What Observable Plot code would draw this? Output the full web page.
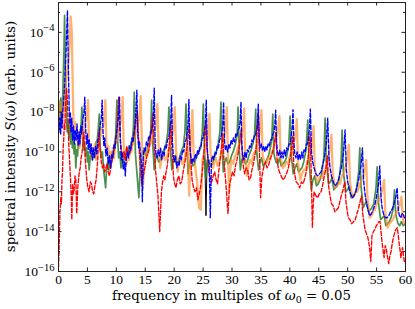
<!DOCTYPE html>
<html><head><meta charset="utf-8">
<script src="https://cdn.jsdelivr.net/npm/d3@7"></script>
<script src="https://cdn.jsdelivr.net/npm/@observablehq/plot@0.6"></script>
<style>body{margin:0;background:#fff} svg{display:block}</style>
</head><body><div id="chart"></div>
<script>
// tick values
const xTicks = [0,5,10,15,20,25,30,35,40,45,50,55,60];
const yMajorExp = [-16,-14,-12,-10,-8,-6,-4];
const yMinorExp = [-15,-13,-11,-9,-7,-5,-3];

// series: [frequency, log10 S(omega)]
const black = [[25.3,-10.3],[25.5,-13.2],[25.7,-10.4]];

const green = [[0.0,-7.4],[0.1,-8.2],[0.2,-8.8],[0.3,-7.9],[0.4,-7.3],[0.5,-8.1],[0.6,-8.5],[0.7,-7.6],[0.8,-6.5],[0.95,-4.8],[1.05,-3.15],[1.2,-6.0],[1.35,-8.0],[1.5,-9.0],[1.65,-8.4],[1.8,-9.3],[1.95,-8.6],[2.1,-9.6],[2.25,-8.9],[2.4,-9.8],[2.55,-9.2],[2.7,-10.1],[2.85,-9.6],[3.0,-10.8],[3.15,-9.9],[3.3,-10.2],[3.45,-9.4],[3.6,-9.7],[3.75,-9.0],[3.9,-8.7],[4.05,-7.75],[4.2,-9.3],[4.35,-9.9],[4.5,-9.5],[4.7,-10.2],[4.85,-9.8],[5.0,-10.5],[5.15,-10.0],[5.3,-10.9],[5.5,-10.2],[5.7,-9.9],[5.9,-10.4],[6.1,-9.9],[6.3,-10.3],[6.5,-9.5],[6.7,-9.4],[6.85,-8.9],[7.05,-8.1],[7.2,-9.7],[7.4,-10.3],[7.6,-10.0],[7.8,-10.9],[8.0,-11.4],[8.15,-11.8],[8.3,-10.9],[8.5,-10.5],[8.7,-10.9],[8.9,-10.2],[9.1,-10.6],[9.3,-10.0],[9.5,-10.2],[9.7,-9.6],[9.9,-9.1],[10.1,-7.4],[10.25,-9.5],[10.4,-10.3],[10.6,-10.0],[10.8,-10.8],[11.0,-10.4],[11.2,-10.7],[11.4,-10.0],[11.6,-10.3],[11.8,-9.8],[12.0,-10.2],[12.2,-9.7],[12.4,-10.0],[12.6,-9.5],[12.8,-9.3],[12.95,-8.8],[13.1,-7.0],[13.3,-10.1],[13.6,-11.2],[13.9,-12.3],[14.2,-10.3],[14.5,-10.0],[14.8,-9.9],[15.1,-10.2],[15.3,-10.1],[15.5,-9.7],[15.7,-9.5],[15.95,-8.9],[16.1,-7.4],[16.3,-9.6],[16.55,-10.9],[16.8,-10.3],[17.0,-10.1],[17.3,-10.5],[17.6,-10.4],[17.9,-10.1],[18.2,-9.9],[18.6,-9.6],[18.9,-9.0],[19.1,-7.75],[19.3,-9.7],[19.6,-10.9],[19.9,-10.4],[20.1,-10.2],[20.4,-10.6],[20.7,-10.5],[21.0,-10.2],[21.2,-10.0],[21.6,-9.7],[21.85,-9.0],[22.05,-7.6],[22.25,-9.8],[22.4,-11.1],[22.7,-10.5],[22.9,-10.3],[23.2,-10.7],[23.5,-10.6],[23.8,-10.3],[24.1,-10.1],[24.6,-9.8],[24.85,-9.1],[25.05,-7.6],[25.25,-10.0],[25.45,-11.3],[25.7,-10.6],[26.0,-10.4],[26.3,-10.7],[26.6,-10.6],[26.9,-10.3],[27.2,-10.1],[27.6,-9.6],[27.9,-9.0],[28.1,-7.5],[28.3,-9.8],[28.5,-11.0],[28.75,-10.5],[29.0,-10.3],[29.3,-10.6],[29.6,-10.5],[29.9,-10.2],[30.2,-10.0],[30.6,-9.6],[30.9,-9.1],[31.05,-7.75],[31.25,-9.9],[31.45,-10.9],[31.7,-10.4],[32.0,-10.2],[32.3,-10.6],[32.6,-10.5],[32.9,-10.2],[33.2,-10.0],[33.6,-9.6],[33.9,-9.1],[34.1,-7.85],[34.3,-10.1],[34.6,-10.9],[34.85,-10.5],[35.1,-10.3],[35.4,-10.7],[35.7,-10.6],[36.0,-10.4],[36.3,-10.2],[36.7,-9.7],[36.9,-9.2],[37.05,-8.1],[37.25,-10.1],[37.6,-10.5],[37.9,-10.6],[38.2,-10.3],[38.5,-10.7],[38.8,-10.6],[39.1,-10.5],[39.4,-10.3],[39.8,-9.7],[40.05,-8.2],[40.25,-10.2],[40.6,-11.1],[40.9,-10.8],[41.2,-10.6],[41.5,-11.0],[41.8,-10.9],[42.1,-10.8],[42.4,-10.5],[42.8,-9.9],[43.1,-8.4],[43.3,-10.4],[43.7,-11.9],[44.0,-11.4],[44.3,-11.2],[44.6,-11.7],[44.9,-11.6],[45.2,-11.4],[45.5,-11.1],[45.9,-10.2],[46.1,-8.3],[46.3,-10.5],[46.7,-11.6],[47.0,-11.5],[47.3,-11.3],[47.6,-11.9],[47.9,-11.8],[48.2,-11.7],[48.5,-11.4],[48.85,-10.5],[49.05,-8.9],[49.25,-11.0],[49.7,-12.0],[50.0,-11.9],[50.3,-11.7],[50.6,-12.3],[50.9,-12.2],[51.2,-12.1],[51.5,-11.9],[51.9,-11.0],[52.1,-9.8],[52.3,-11.7],[52.7,-12.8],[53.0,-12.6],[53.3,-12.5],[53.6,-13.0],[53.9,-12.9],[54.2,-12.8],[54.5,-12.6],[54.9,-11.8],[55.1,-10.75],[55.3,-12.5],[55.7,-13.4],[56.0,-13.3],[56.3,-13.2],[56.6,-13.7],[56.9,-13.6],[57.2,-13.5],[57.5,-13.3],[57.9,-12.8],[58.1,-11.9],[58.3,-13.1],[58.7,-13.6],[59.0,-13.7],[59.3,-13.5],[59.6,-13.7],[60.0,-13.6]];

const orange = [[0.0,-7.6],[0.12,-8.3],[0.25,-8.7],[0.38,-7.9],[0.5,-7.5],[0.62,-8.4],[0.75,-8.7],[0.9,-7.8],[1.05,-7.3],[1.2,-6.8],[1.35,-6.4],[1.5,-6.0],[1.75,-5.4],[1.95,-4.5],[2.1,-3.2],[2.3,-4.0],[2.45,-6.5],[2.6,-8.6],[2.75,-9.0],[2.9,-8.5],[3.05,-9.4],[3.2,-8.8],[3.35,-9.7],[3.5,-9.2],[3.65,-9.8],[3.8,-9.0],[4.0,-9.3],[4.2,-8.8],[4.4,-9.0],[4.6,-8.5],[4.8,-8.3],[4.95,-8.0],[5.1,-7.4],[5.25,-9.3],[5.4,-9.9],[5.55,-9.6],[5.7,-10.3],[5.9,-9.8],[6.1,-10.1],[6.3,-9.6],[6.5,-10.4],[6.7,-9.8],[6.9,-9.5],[7.1,-9.0],[7.3,-9.2],[7.5,-8.8],[7.7,-8.7],[7.9,-8.3],[8.1,-7.4],[8.25,-9.4],[8.4,-10.1],[8.6,-9.7],[8.8,-10.5],[9.0,-10.0],[9.2,-10.4],[9.4,-9.8],[9.6,-10.3],[9.8,-9.6],[10.0,-9.5],[10.2,-9.0],[10.4,-8.8],[10.6,-8.7],[10.8,-8.4],[10.95,-8.0],[11.1,-7.25],[11.25,-9.5],[11.4,-10.3],[11.6,-10.0],[11.8,-10.6],[12.0,-10.1],[12.2,-10.4],[12.4,-9.8],[12.6,-10.0],[12.8,-9.5],[13.0,-9.6],[13.2,-9.2],[13.4,-9.0],[13.6,-8.7],[13.8,-8.5],[14.0,-8.2],[14.2,-7.2],[14.4,-9.4],[14.6,-11.8],[14.8,-10.6],[15.0,-10.3],[15.25,-10.0],[15.5,-9.8],[15.75,-9.7],[16.0,-9.5],[16.25,-9.3],[16.5,-9.0],[16.7,-8.9],[16.9,-8.6],[17.1,-7.6],[17.3,-9.6],[17.6,-10.8],[17.85,-10.3],[18.1,-10.0],[18.4,-10.4],[18.7,-10.3],[19.0,-9.9],[19.3,-9.6],[19.55,-9.3],[19.8,-9.0],[20.1,-7.75],[20.3,-9.8],[20.6,-11.0],[20.85,-10.5],[21.1,-10.2],[21.4,-10.6],[21.7,-10.5],[22.0,-10.0],[22.3,-9.6],[22.6,-12.2],[22.9,-9.2],[23.15,-7.9],[23.35,-10.0],[23.7,-10.9],[24.0,-11.6],[24.3,-12.8],[24.6,-12.9],[24.9,-10.4],[25.15,-10.1],[25.4,-9.9],[25.6,-9.6],[25.8,-9.2],[26.1,-8.1],[26.3,-10.1],[26.7,-10.8],[26.95,-10.5],[27.2,-10.3],[27.5,-10.7],[27.8,-10.5],[28.1,-10.1],[28.4,-9.6],[28.8,-9.0],[29.1,-7.75],[29.3,-10.2],[29.5,-12.0],[29.7,-10.9],[29.9,-10.4],[30.2,-10.6],[30.5,-10.2],[30.75,-10.1],[31.0,-9.8],[31.3,-9.6],[31.6,-9.3],[31.9,-8.8],[32.1,-7.83],[32.3,-10.3],[32.6,-11.2],[32.85,-10.7],[33.1,-10.4],[33.4,-10.6],[33.7,-10.1],[34.0,-10.0],[34.3,-9.8],[34.8,-9.0],[35.1,-7.9],[35.3,-10.2],[35.7,-10.6],[36.0,-10.5],[36.3,-10.3],[36.6,-10.4],[36.9,-10.0],[37.2,-9.8],[37.5,-9.5],[37.9,-9.0],[38.2,-8.2],[38.4,-10.3],[38.8,-10.8],[39.1,-10.7],[39.4,-10.5],[39.7,-10.6],[40.0,-10.2],[40.3,-10.0],[40.6,-9.7],[41.0,-9.1],[41.2,-8.35],[41.4,-10.5],[41.8,-11.4],[42.1,-11.1],[42.4,-10.9],[42.7,-10.9],[43.0,-10.5],[43.3,-10.3],[43.6,-10.0],[43.9,-9.5],[44.1,-8.7],[44.3,-10.8],[44.7,-11.5],[45.0,-11.4],[45.3,-11.2],[45.6,-11.3],[45.9,-11.0],[46.2,-10.8],[46.5,-10.5],[46.9,-9.9],[47.2,-9.15],[47.4,-11.0],[47.8,-11.8],[48.1,-11.7],[48.4,-11.5],[48.7,-11.6],[49.0,-11.2],[49.3,-11.1],[49.6,-10.8],[49.95,-10.3],[50.2,-9.65],[50.4,-11.5],[50.8,-12.3],[51.1,-12.2],[51.4,-12.0],[51.7,-12.0],[52.0,-11.7],[52.3,-11.5],[52.6,-11.3],[52.95,-10.9],[53.2,-10.4],[53.4,-12.2],[53.8,-13.3],[54.1,-13.2],[54.4,-13.0],[54.7,-12.9],[55.0,-12.6],[55.3,-12.5],[55.6,-12.3],[56.0,-11.9],[56.3,-11.4],[56.5,-13.0],[56.9,-13.8],[57.2,-13.6],[57.5,-13.5],[57.8,-13.4],[58.1,-13.2],[58.4,-13.1],[58.7,-12.9],[59.05,-12.6],[59.3,-12.25],[59.5,-13.3],[59.75,-13.6],[60.0,-13.5]];

const red = [[0.0,-15.8],[0.1,-15.0],[0.25,-13.0],[0.4,-12.3],[0.5,-12.6],[0.6,-11.4],[0.7,-11.0],[0.8,-9.8],[0.9,-9.4],[1.0,-8.6],[1.1,-8.9],[1.2,-7.6],[1.4,-6.8],[1.55,-7.5],[1.7,-8.9],[1.8,-9.8],[1.9,-10.3],[2.0,-10.9],[2.1,-11.5],[2.2,-12.2],[2.3,-13.4],[2.45,-11.6],[2.6,-12.1],[2.7,-11.9],[2.85,-11.2],[3.0,-11.4],[3.15,-13.1],[3.35,-11.7],[3.5,-11.3],[3.6,-11.0],[3.75,-10.8],[3.9,-10.3],[4.05,-10.1],[4.2,-9.6],[4.4,-9.0],[4.6,-10.2],[4.75,-10.9],[4.9,-11.4],[5.1,-11.8],[5.3,-12.0],[5.5,-11.5],[5.7,-11.6],[5.9,-12.0],[6.1,-12.1],[6.3,-11.7],[6.5,-11.4],[6.65,-10.9],[6.8,-10.3],[7.0,-8.9],[7.2,-9.9],[7.4,-10.5],[7.6,-10.8],[7.8,-10.6],[8.0,-11.0],[8.2,-10.8],[8.4,-10.6],[8.6,-11.0],[8.8,-11.2],[9.05,-10.8],[9.3,-10.4],[9.55,-10.0],[9.8,-9.5],[10.0,-9.1],[10.2,-8.4],[10.4,-7.25],[10.6,-9.0],[10.75,-9.6],[10.9,-9.9],[11.1,-10.3],[11.3,-10.0],[11.55,-10.4],[11.8,-9.7],[12.05,-10.2],[12.3,-10.1],[12.55,-9.8],[12.8,-9.5],[13.0,-9.3],[13.2,-8.9],[13.4,-8.5],[13.6,-7.9],[13.8,-9.1],[14.1,-10.6],[14.4,-11.6],[14.6,-11.3],[14.8,-11.0],[15.05,-10.6],[15.3,-10.2],[15.5,-10.1],[15.7,-9.8],[16.0,-9.0],[16.3,-8.1],[16.5,-9.5],[16.8,-11.0],[17.0,-11.6],[17.2,-12.2],[17.5,-14.0],[17.8,-12.0],[18.0,-11.5],[18.2,-11.2],[18.4,-11.4],[18.6,-11.0],[18.8,-10.7],[19.0,-10.2],[19.2,-9.5],[19.4,-8.5],[19.6,-9.8],[19.9,-11.3],[20.1,-11.6],[20.3,-11.8],[20.55,-11.4],[20.8,-11.2],[21.05,-11.6],[21.3,-11.5],[21.55,-11.0],[21.8,-10.6],[22.05,-10.2],[22.3,-9.6],[22.6,-8.65],[22.8,-10.0],[23.1,-11.4],[23.35,-11.8],[23.6,-12.0],[23.85,-11.8],[24.1,-12.4],[24.35,-12.1],[24.6,-11.7],[24.85,-11.0],[25.1,-10.2],[25.3,-9.4],[25.5,-8.5],[25.7,-9.9],[26.0,-11.0],[26.25,-11.3],[26.5,-11.5],[26.75,-11.2],[27.0,-11.0],[27.25,-11.4],[27.5,-11.6],[27.7,-11.0],[27.9,-10.5],[28.15,-9.9],[28.4,-9.1],[28.6,-10.4],[29.0,-11.8],[29.3,-13.1],[29.6,-11.6],[29.85,-11.3],[30.1,-11.0],[30.35,-11.2],[30.6,-10.7],[30.85,-10.4],[31.1,-10.0],[31.3,-9.6],[31.55,-8.9],[31.8,-10.3],[32.0,-10.8],[32.2,-11.1],[32.45,-10.8],[32.7,-10.9],[32.95,-11.4],[33.2,-11.3],[33.45,-10.9],[33.7,-10.6],[33.95,-10.2],[34.2,-9.7],[34.55,-8.0],[34.75,-10.1],[34.95,-12.3],[35.15,-11.3],[35.3,-11.0],[35.55,-10.7],[35.8,-10.5],[36.05,-10.8],[36.3,-10.7],[36.55,-10.4],[36.8,-10.2],[37.0,-10.0],[37.2,-9.8],[37.6,-9.0],[37.8,-10.4],[38.0,-10.8],[38.2,-11.0],[38.5,-11.2],[38.8,-11.4],[39.1,-11.3],[39.4,-11.1],[39.65,-10.9],[39.9,-10.6],[40.2,-10.0],[40.5,-9.2],[40.7,-10.8],[40.9,-11.2],[41.1,-11.5],[41.4,-11.6],[41.7,-11.8],[42.0,-11.5],[42.3,-11.6],[42.6,-11.3],[42.9,-10.9],[43.2,-10.2],[43.5,-9.1],[43.7,-11.0],[43.9,-13.8],[44.05,-12.6],[44.2,-12.0],[44.5,-12.2],[44.8,-12.3],[45.1,-12.1],[45.4,-12.0],[45.65,-11.7],[45.9,-11.3],[46.2,-10.9],[46.5,-10.2],[46.7,-11.7],[46.95,-12.2],[47.2,-12.6],[47.5,-12.7],[47.8,-13.0],[48.1,-12.9],[48.4,-12.8],[48.65,-12.5],[48.9,-12.2],[49.2,-11.9],[49.5,-11.5],[49.7,-12.5],[49.9,-12.9],[50.1,-13.3],[50.4,-13.4],[50.7,-13.6],[51.0,-13.5],[51.3,-13.4],[51.6,-13.1],[51.9,-12.8],[52.15,-12.5],[52.4,-12.2],[52.6,-13.1],[53.0,-13.9],[53.25,-14.1],[53.5,-14.3],[53.8,-14.8],[54.0,-15.5],[54.2,-14.2],[54.45,-14.0],[54.7,-13.9],[54.95,-13.7],[55.2,-13.6],[55.4,-13.5],[55.6,-13.5],[55.9,-14.4],[56.1,-14.9],[56.3,-15.3],[56.5,-14.7],[56.7,-14.9],[56.9,-15.3],[57.1,-15.6],[57.3,-15.2],[57.5,-15.0],[57.7,-14.6],[57.9,-14.3],[58.1,-14.1],[58.3,-13.9],[58.6,-13.8],[58.9,-14.6],[59.05,-14.9],[59.2,-15.3],[59.35,-15.0],[59.5,-14.8],[59.65,-15.2],[59.8,-15.5],[60.0,-15.6]];

const blue = [[0.0,-8.2],[0.12,-8.9],[0.25,-8.3],[0.38,-9.1],[0.5,-8.0],[0.62,-8.8],[0.75,-7.9],[0.9,-7.4],[1.05,-6.6],[1.3,-5.0],[1.55,-2.9],[1.7,-5.6],[1.85,-7.8],[1.95,-8.6],[2.05,-8.0],[2.15,-9.0],[2.3,-8.3],[2.45,-9.4],[2.6,-8.7],[2.75,-9.6],[2.9,-8.9],[3.05,-9.4],[3.2,-8.6],[3.4,-9.7],[3.55,-9.0],[3.7,-9.6],[3.85,-8.7],[4.0,-9.1],[4.2,-8.4],[4.4,-8.0],[4.55,-7.25],[4.7,-8.9],[4.85,-9.6],[5.0,-9.1],[5.15,-9.9],[5.3,-9.4],[5.5,-10.1],[5.65,-9.6],[5.85,-10.4],[6.0,-9.8],[6.2,-10.3],[6.4,-9.7],[6.6,-10.1],[6.8,-9.4],[7.0,-9.2],[7.2,-8.7],[7.4,-8.3],[7.55,-7.4],[7.7,-9.0],[7.85,-9.7],[8.0,-9.3],[8.2,-10.2],[8.4,-9.8],[8.6,-10.6],[8.8,-10.2],[9.0,-10.8],[9.2,-10.1],[9.4,-10.3],[9.6,-9.6],[9.8,-9.8],[10.0,-9.1],[10.2,-8.7],[10.35,-8.3],[10.55,-7.25],[10.7,-9.4],[10.85,-10.4],[11.0,-10.0],[11.2,-10.9],[11.4,-10.5],[11.55,-11.2],[11.7,-10.4],[11.9,-10.0],[12.1,-10.3],[12.3,-9.7],[12.5,-9.9],[12.7,-9.3],[12.9,-9.5],[13.1,-8.9],[13.3,-8.4],[13.55,-6.9],[13.7,-9.1],[13.85,-9.8],[14.0,-9.5],[14.2,-10.2],[14.35,-10.6],[14.5,-12.5],[14.65,-10.3],[14.8,-9.8],[15.0,-10.0],[15.2,-9.5],[15.4,-9.7],[15.6,-9.2],[15.8,-9.3],[16.0,-9.0],[16.2,-8.8],[16.4,-8.3],[16.55,-6.8],[16.7,-9.4],[16.85,-10.1],[17.05,-10.3],[17.25,-9.9],[17.45,-10.2],[17.65,-9.8],[17.85,-10.4],[18.05,-10.0],[18.25,-10.2],[18.45,-9.7],[18.65,-9.8],[18.85,-9.4],[19.05,-9.3],[19.25,-8.9],[19.4,-8.5],[19.55,-7.15],[19.7,-9.5],[19.85,-10.2],[20.05,-10.5],[20.25,-10.2],[20.45,-10.8],[20.65,-10.5],[20.85,-10.7],[21.05,-10.2],[21.25,-10.4],[21.45,-9.9],[21.65,-10.0],[21.85,-9.5],[22.05,-9.4],[22.25,-9.0],[22.4,-8.6],[22.55,-7.37],[22.7,-9.6],[22.85,-10.2],[23.05,-10.6],[23.25,-10.3],[23.45,-10.5],[23.65,-10.1],[23.85,-10.3],[24.05,-9.9],[24.25,-10.1],[24.45,-9.7],[24.65,-9.7],[24.85,-9.3],[25.05,-9.3],[25.25,-8.9],[25.4,-8.6],[25.55,-7.4],[25.7,-9.7],[25.85,-10.3],[26.05,-10.6],[26.25,-13.3],[26.45,-10.4],[26.65,-10.2],[26.85,-10.4],[27.05,-10.0],[27.25,-10.1],[27.45,-9.7],[27.65,-9.8],[27.85,-9.4],[28.05,-9.3],[28.25,-9.0],[28.4,-8.7],[28.55,-7.5],[28.7,-9.4],[28.85,-9.9],[29.05,-9.7],[29.25,-10.0],[29.45,-9.6],[29.65,-9.8],[29.85,-9.4],[30.05,-9.6],[30.25,-9.3],[30.45,-9.5],[30.65,-9.1],[30.85,-9.2],[31.05,-8.9],[31.25,-8.8],[31.4,-8.5],[31.55,-7.5],[31.7,-9.6],[31.85,-10.2],[32.05,-10.4],[32.25,-10.0],[32.45,-10.3],[32.65,-9.9],[32.85,-10.0],[33.05,-9.7],[33.25,-9.8],[33.45,-9.4],[33.65,-9.5],[33.85,-9.2],[34.05,-9.2],[34.25,-8.9],[34.4,-8.6],[34.55,-7.6],[34.7,-9.3],[34.85,-9.8],[35.05,-9.6],[35.25,-9.9],[35.45,-9.7],[35.65,-10.0],[35.85,-9.7],[36.05,-9.9],[36.25,-9.6],[36.45,-9.7],[36.65,-9.4],[36.85,-9.4],[37.05,-9.1],[37.25,-9.0],[37.4,-8.7],[37.55,-7.9],[37.7,-9.5],[37.85,-10.0],[38.05,-10.2],[38.25,-9.9],[38.45,-10.3],[38.65,-10.0],[38.85,-10.3],[39.05,-9.9],[39.25,-10.2],[39.45,-9.8],[39.65,-9.9],[39.85,-9.6],[40.05,-9.6],[40.25,-9.2],[40.4,-8.8],[40.55,-7.88],[40.7,-9.5],[40.85,-10.1],[41.05,-10.3],[41.25,-10.0],[41.45,-10.4],[41.65,-10.1],[41.85,-10.4],[42.05,-10.0],[42.25,-10.3],[42.45,-9.9],[42.65,-10.0],[42.85,-9.6],[43.05,-9.6],[43.25,-9.2],[43.4,-8.8],[43.55,-7.85],[43.75,-10.0],[43.95,-10.5],[44.2,-10.8],[44.5,-11.1],[44.8,-11.2],[45.1,-11.1],[45.4,-11.0],[45.65,-10.7],[45.9,-10.4],[46.1,-10.0],[46.3,-9.6],[46.55,-8.3],[46.75,-10.2],[46.95,-10.8],[47.2,-11.2],[47.5,-11.5],[47.8,-11.7],[48.1,-11.6],[48.4,-11.4],[48.65,-11.1],[48.9,-10.8],[49.1,-10.4],[49.3,-10.0],[49.55,-8.9],[49.75,-10.8],[49.95,-11.4],[50.2,-11.8],[50.5,-12.1],[50.8,-12.3],[51.1,-12.2],[51.4,-12.0],[51.65,-11.7],[51.9,-11.4],[52.1,-11.0],[52.3,-10.7],[52.55,-9.8],[52.75,-11.4],[52.95,-12.0],[53.2,-12.5],[53.5,-12.9],[53.8,-13.2],[54.1,-13.1],[54.4,-12.9],[54.65,-12.7],[54.9,-12.4],[55.1,-12.0],[55.3,-11.7],[55.55,-10.7],[55.75,-12.2],[55.95,-12.8],[56.2,-13.1],[56.5,-13.3],[56.8,-13.3],[57.1,-13.2],[57.4,-13.0],[57.65,-12.9],[57.9,-12.7],[58.1,-12.5],[58.3,-12.3],[58.55,-11.8],[58.75,-12.9],[58.95,-13.2],[59.2,-13.3],[59.4,-13.1],[59.6,-13.1],[59.8,-13.3],[60.0,-13.3]];

const rows = (arr) => arr.map(([x, e]) => ({x, y: Math.pow(10, e)}));
const yMajor = yMajorExp.map(e => Math.pow(10, e));
const yMinor = yMinorExp.map(e => Math.pow(10, e));

const W = 415, H = 309, mt = 2, mb = 38, ml = 58, mr = 10;
const ih = H - mt - mb, iw = W - ml - mr;
const TICKFONT = "'Liberation Serif', serif";
const LABELFONT = "'DejaVu Serif', 'Liberation Serif', serif";
const tickCol = "#222";

const svg = Plot.plot({
  width: W, height: H,
  marginTop: mt, marginBottom: mb, marginLeft: ml, marginRight: mr,
  style: {fontFamily: TICKFONT, fontSize: "13.5px", background: "#fff", color: "#000"},
  x: {domain: [0, 60], label: null},
  y: {type: "log", domain: [1e-16, Math.pow(10, -2.5)], label: null},
  marks: [
    Plot.line(rows(black), {x: "x", y: "y", stroke: "#000", strokeWidth: 1, clip: true}),
    Plot.line(rows(green), {x: "x", y: "y", stroke: "#2c7c2c", strokeWidth: 1.7, strokeOpacity: 0.85, clip: true}),
    Plot.line(rows(orange), {x: "x", y: "y", stroke: "#ff8a25", strokeWidth: 2.3, strokeOpacity: 0.65, clip: true}),
    Plot.line(rows(red), {x: "x", y: "y", stroke: "#ff0000", strokeWidth: 1.35, strokeDasharray: "4,2", clip: true}),
    Plot.line(rows(blue), {x: "x", y: "y", stroke: "#0000ff", strokeWidth: 1.35, strokeDasharray: "4,2", clip: true}),
    // inward ticks
    Plot.tickX(xTicks, {x: d => d, insetTop: ih - 3.5, stroke: tickCol}),
    Plot.tickX(xTicks, {x: d => d, insetBottom: ih - 3.5, stroke: tickCol}),
    Plot.tickY(yMajor, {y: d => d, insetRight: iw - 3.5, stroke: tickCol}),
    Plot.tickY(yMajor, {y: d => d, insetLeft: iw - 3.5, stroke: tickCol}),
    Plot.tickY(yMinor, {y: d => d, insetRight: iw - 2, stroke: tickCol}),
    Plot.tickY(yMinor, {y: d => d, insetLeft: iw - 2, stroke: tickCol}),
    Plot.axisX({ticks: xTicks, tickSize: 0, tickPadding: 3, tickFormat: d => String(d), fontSize: 13.5}),
    Plot.axisY({ticks: yMajor, tickSize: 0, tickPadding: 4, fontSize: 13.5,
      tickFormat: d => "10^" + Math.round(Math.log10(d))}),
    Plot.frame({stroke: tickCol, strokeWidth: 1})
  ]
});

const s = d3.select(svg);
// superscript exponents on y tick labels
s.selectAll('g[aria-label="y-axis tick label"] text').each(function () {
  const t = this.textContent;
  const e = t.split("^")[1];
  const el = d3.select(this);
  el.text("");
  el.append("tspan").text("10");
  el.append("tspan").attr("dy", "-0.5em").attr("font-size", "10.5px")
    .text("\u2212" + Math.abs(+e));
});

// x-axis label
const xl = s.append("text")
  .attr("x", ml + iw / 2).attr("y", 300)
  .attr("text-anchor", "middle").attr("font-family", LABELFONT).attr("font-size", "13.3px").attr("fill", "#000");
xl.append("tspan").text("frequency in multiples of ");
xl.append("tspan").attr("font-style", "italic").text("ω");
xl.append("tspan").attr("font-size", "9.5px").attr("dy", "3").text("0");
xl.append("tspan").attr("dy", "-3").text(" = 0.05");

// y-axis label
const yl = s.append("text")
  .attr("transform", `translate(15,${mt + ih / 2}) rotate(-90)`)
  .attr("text-anchor", "middle").attr("font-family", LABELFONT).attr("font-size", "13.3px").attr("fill", "#000");
yl.append("tspan").text("spectral intensity ");
yl.append("tspan").attr("font-style", "italic").text("S");
yl.append("tspan").text("(");
yl.append("tspan").attr("font-style", "italic").text("ω");
yl.append("tspan").text(") (arb. units)");

document.getElementById("chart").appendChild(svg);
</script>
</body></html>
